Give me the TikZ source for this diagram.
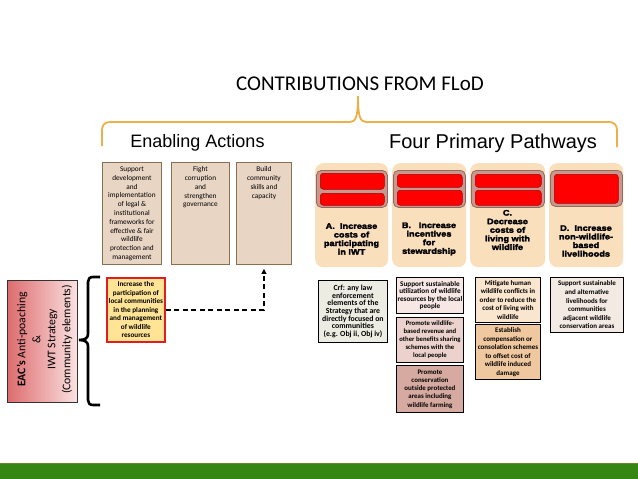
\documentclass[tikz,border=0pt]{standalone}
\usepackage{fontspec}
\setmainfont{Carlito}
\newfontfamily\arialf{Liberation Sans}
\newfontfamily\heavy[FakeBold=3,FakeStretch=1.15]{Liberation Sans Bold}
\usetikzlibrary{arrows.meta,calc}
\definecolor{enfill}{RGB}{232,213,196}
\definecolor{enbd}{RGB}{140,110,80}
\definecolor{peach}{RGB}{250,223,188}
\definecolor{contf}{RGB}{200,152,142}
\definecolor{contd}{RGB}{150,105,95}
\definecolor{redbar}{RGB}{255,0,0}
\definecolor{redbd}{RGB}{170,0,0}
\definecolor{gold}{RGB}{236,176,72}
\definecolor{grassgreen}{RGB}{53,134,18}
\definecolor{olivetop}{RGB}{110,135,40}
\definecolor{crff}{RGB}{236,236,226}
\definecolor{bonef}{RGB}{247,232,230}
\definecolor{btwof}{RGB}{236,210,204}
\definecolor{bthreef}{RGB}{214,170,160}
\definecolor{conef}{RGB}{250,229,206}
\definecolor{ctwof}{RGB}{240,200,160}
\definecolor{donef}{RGB}{244,234,228}
\definecolor{eacl}{RGB}{222,108,110}
\definecolor{eacr}{RGB}{250,226,226}
\definecolor{yelf}{RGB}{255,228,150}
\definecolor{yelbd}{RGB}{225,30,30}
\begin{document}
\begin{tikzpicture}[x=1pt,y=-1pt,
  enab/.style={draw=enbd, fill=enfill, line width=0.9pt, anchor=north west, inner sep=0pt},
  etext/.style={anchor=north, align=center, inner sep=0pt, font=\fontsize{7.3}{8.8}\selectfont},
  pcol/.style={fill=peach, rounded corners=8pt, anchor=north west, inner sep=0pt},
  rcont/.style={fill=contf, draw=contd, line width=0.8pt, rounded corners=5pt, anchor=north west, inner sep=0pt},
  rbar/.style={fill=redbar, draw=redbd, line width=0.5pt, rounded corners=3pt, anchor=north west, inner sep=0pt},
  plabel/.style={align=center, inner sep=0pt, font=\heavy\fontsize{8}{8.6}\selectfont},
  lbox/.style={draw=black, line width=0.9pt, anchor=north west, inner sep=0.3pt, align=center},
  dasharrow/.style={draw=black, line width=1.3pt, dash pattern=on 5pt off 3.5pt, -{Triangle[length=5pt,width=5pt]}},
]
\useasboundingbox (0,0) rectangle (638,479);

% bottom green bar
\fill[grassgreen] (0,463) rectangle (638,479);
\draw[olivetop, line width=0.8pt] (0,463.4) -- (638,463.4);

% title and brace
\node[font=\fontsize{21}{24}\selectfont, inner sep=0pt] (title) at (360,84) {CONTRIBUTIONS FROM FLoD};
\draw[gold, line width=1.8pt] (102,146) -- (102,130) .. controls (102,125) and (105,122) .. (110,122)
  -- (350,122) .. controls (356,122) and (358,116) .. (358,96) .. controls (358,116) and (360,122) .. (366,122)
  -- (609,122) .. controls (614,122) and (617,125) .. (617,130) -- (617,147);

\node[font=\arialf\fontsize{18}{20}\selectfont, inner sep=0pt] (ea) at (197.5,143) {Enabling Actions};
\node[font=\arialf\fontsize{20}{22}\selectfont, inner sep=0pt] (fp) at (493,143) {Four Primary Pathways};

% enabling action boxes
\node[enab, minimum width=59pt, minimum height=102pt] (e1) at (102,162) {};
\node[enab, minimum width=58pt, minimum height=102pt] (e2) at (171,162) {};
\node[enab, minimum width=55pt, minimum height=102pt] (e3) at (236,162) {};
\node[etext] (e1t) at ($(e1.north)+(0,4.5)$) {Support\\development\\and\\implementation\\of legal \&\\institutional\\frameworks for\\effective \& fair\\wildlife\\protection and\\management};
\node[etext] (e2t) at ($(e2.north)+(0,4.5)$) {Fight\\corruption\\and\\strengthen\\governance};
\node[etext] (e3t) at ($(e3.north)+(0,4.5)$) {Build\\community\\skills and\\capacity};

% pathway columns
\node[pcol, minimum width=73pt, minimum height=104pt] (pa) at (315,163) {};
\node[pcol, minimum width=74pt, minimum height=104pt] (pb) at (392,163) {};
\node[pcol, minimum width=75pt, minimum height=104pt] (pc) at (470,163) {};
\node[pcol, minimum width=74pt, minimum height=104pt] (pd) at (549,163) {};

\node[rcont, minimum width=71pt, minimum height=37pt] (pac) at (316,170) {};
\node[rcont, minimum width=72pt, minimum height=37pt] (pbc) at (393,170) {};
\node[rcont, minimum width=73pt, minimum height=37pt] (pcc) at (471,170) {};
\node[rcont, minimum width=72pt, minimum height=36pt] (pdc) at (550,170) {};

\node[rbar, minimum width=64pt, minimum height=16pt] (pa1) at (320,173) {};
\node[rbar, minimum width=64pt, minimum height=12pt] (pa2) at (320,193) {};
\node[rbar, minimum width=65pt, minimum height=13pt] (pb1) at (397,174) {};
\node[rbar, minimum width=65pt, minimum height=15pt] (pb2) at (397,190) {};
\node[rbar, minimum width=66pt, minimum height=13pt] (pc1) at (475,174) {};
\node[rbar, minimum width=66pt, minimum height=15pt] (pc2) at (475,190) {};
\node[rbar, minimum width=64pt, minimum height=29pt] (pd1) at (554,174) {};

\node[plabel] (pat) at (351.5,239) {A.~ Increase\\costs of\\participating\\in IWT};
\node[plabel] (pbt) at (429,239) {B.~~ Increase\\incentives\\for\\stewardship};
\node[plabel] (pct) at (507.5,230) {C.\\Decrease\\costs of\\living with\\wildlife};
\node[plabel] (pdt) at (586,241) {D.~ Increase\\non-wildlife-\\based\\livelihoods};

% lower pathway boxes
\node[lbox, fill=crff, minimum width=69pt, minimum height=62pt, font=\bfseries\fontsize{7.8}{7.7}\selectfont] (crf) at (318,280) {Crf: any law\\enforcement\\elements of the\\Strategy that are\\directly focused on\\communities\\(e.g. Obj ii, Obj iv)};
\node[lbox, fill=bonef, minimum width=67pt, minimum height=36pt, font=\bfseries\fontsize{7.2}{7.4}\selectfont] (b1) at (396,277) {Support sustainable\\utilization of wildlife\\resources by the local\\people};
\node[lbox, fill=btwof, minimum width=67pt, minimum height=45pt, font=\bfseries\fontsize{6.7}{8}\selectfont] (b2) at (396,317) {Promote wildlife-\\based revenue and\\other benefits sharing\\schemes with the\\local people};
\node[lbox, fill=bthreef, minimum width=67pt, minimum height=47pt, font=\bfseries\fontsize{6.9}{8.2}\selectfont] (b3) at (396,365) {Promote\\conservation\\outside protected\\areas including\\wildlife farming};
\node[lbox, fill=conef, minimum width=65pt, minimum height=45pt, font=\bfseries\fontsize{7}{8.5}\selectfont] (c1) at (475,277) {Mitigate human\\wildlife conflicts in\\order to reduce the\\cost of living with\\wildlife};
\node[lbox, fill=ctwof, minimum width=65pt, minimum height=55pt, font=\bfseries\fontsize{7}{8.5}\selectfont] (c2) at (475,324) {Establish\\compensation or\\consolation schemes\\to offset cost of\\wildlife induced\\damage};
\node[lbox, fill=donef, minimum width=73pt, minimum height=55pt, font=\bfseries\fontsize{7}{8.6}\selectfont] (d1) at (550,277) {Support sustainable\\and alternative\\livelihoods for\\communities\\adjacent wildlife\\conservation areas};

% EAC box
\node[draw=black!80, line width=0.9pt, left color=eacl, right color=eacr, anchor=north west, minimum width=70pt, minimum height=122pt, inner sep=0pt] (eac) at (7,280) {};
\node[rotate=90, align=center, inner sep=0pt, font=\fontsize{11.7}{15}\selectfont] (eact) at ($(eac.center)+(2,-2)$) {\textbf{EAC's} Anti-poaching\\\&\\IWT Strategy\\(Community elements)};

% black brace
\draw[black, line width=2.6pt] (100,277) -- (93,277) .. controls (89.5,277) and (88,279) .. (88,282)
  -- (88,334) .. controls (88,338) and (85,340) .. (79,340) .. controls (85,340) and (88,342) .. (88,346)
  -- (88,400) .. controls (88,403) and (89.5,405) .. (93,405) -- (100,405);

% yellow box
\node[draw=yelbd, line width=1.8pt, fill=yelf, anchor=north west, minimum width=58pt, minimum height=64pt, inner sep=0pt, align=center, font=\bfseries\fontsize{7.2}{8.5}\selectfont] (yel) at (106,277) {Increase the\\participation of\\local communities\\in the planning\\and management\\of wildlife\\resources};

% dashed arrow
\draw[dasharrow, shorten >=4pt] (yel.east) -| (e3.south);
\end{tikzpicture}
\end{document}
